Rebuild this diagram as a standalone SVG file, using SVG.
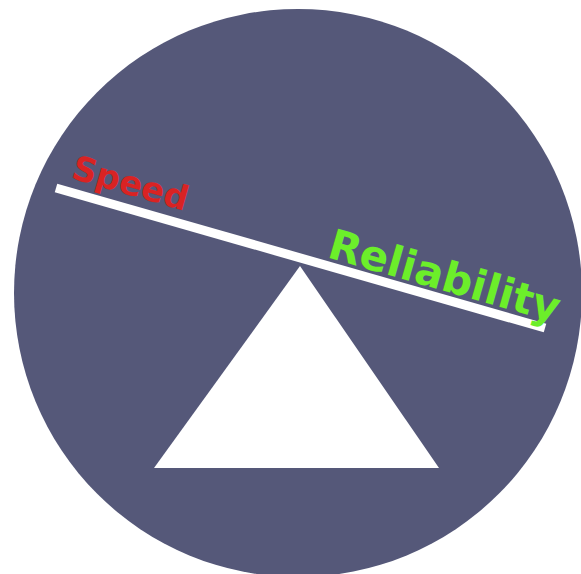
<svg xmlns="http://www.w3.org/2000/svg" width="581" height="574" viewBox="0 0 581 574">
<style>
.lbl{font-family:"DejaVu Sans","Liberation Sans",sans-serif;font-weight:bold}
</style>
<rect width="581" height="574" fill="#ffffff"/>
<g id="disc"><circle cx="298" cy="293" r="284" fill="#555879"/></g>
<g id="fulcrum"><polygon points="300,266 154,468 439,468" fill="#ffffff"/></g>
<g id="beam"><line x1="56" y1="188" x2="545" y2="328" stroke="#ffffff" stroke-width="9"/></g>
<g id="speed"><text class="lbl" x="70" y="178" font-size="34" fill="#d92323" transform="rotate(16 70 178)">Speed</text></g>
<g id="reliability"><text class="lbl" x="326" y="257" font-size="42" fill="#6cee2a" transform="rotate(16 326 257)">Reliability</text></g>
</svg>
